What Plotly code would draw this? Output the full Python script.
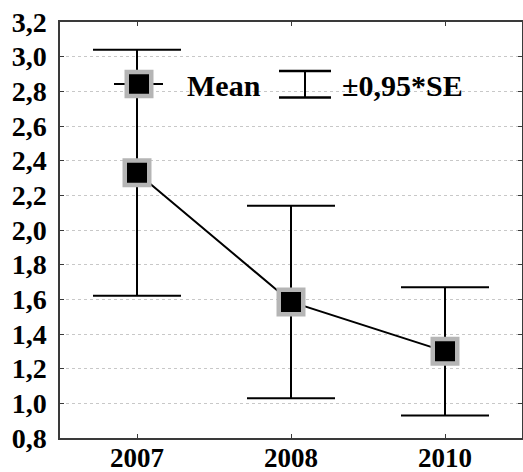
import plotly.graph_objects as go

years = ["2007", "2008", "2010"]
means = [2.33, 1.585, 1.30]
err = [0.71, 0.555, 0.37]
ytick_vals = [0.8, 1.0, 1.2, 1.4, 1.6, 1.8, 2.0, 2.2, 2.4, 2.6, 2.8, 3.0, 3.2]
ytick_text = ["0,8", "1,0", "1,2", "1,4", "1,6", "1,8", "2,0", "2,2", "2,4", "2,6", "2,8", "3,0", "3,2"]
legend_mean = "Mean"
legend_err = "±0,95*SE"

FONT = "Liberation Serif"
GRAY = "#b5b5b5"

fig = go.Figure()
fig.add_trace(go.Scatter(
    x=years, y=means, mode="lines+markers",
    line=dict(color="black", width=2),
    marker=dict(symbol="square", size=24.5, color="black",
                line=dict(color=GRAY, width=4.5)),
    error_y=dict(type="data", array=err, visible=True, color="black",
                 thickness=2, width=44),
    showlegend=False,
))

W, H = 462, 416
def px(x):
    return (x - 60) / W
def py(y):
    return (438 - y) / H

shapes = []
# legend: line segment + marker
shapes.append(dict(type="line", xref="paper", yref="paper",
                   x0=px(114), x1=px(163), y0=py(84), y1=py(84),
                   line=dict(color="black", width=2)))
shapes.append(dict(type="rect", xref="paper", yref="paper",
                   x0=px(139 - 12.25), x1=px(139 + 12.25),
                   y0=py(84 + 12), y1=py(84 - 12),
                   fillcolor="black", line=dict(color=GRAY, width=4.5)))
# legend: error bar symbol
shapes.append(dict(type="line", xref="paper", yref="paper",
                   x0=px(279), x1=px(331), y0=py(71), y1=py(71),
                   line=dict(color="black", width=2.5)))
shapes.append(dict(type="line", xref="paper", yref="paper",
                   x0=px(279), x1=px(331), y0=py(97.5), y1=py(97.5),
                   line=dict(color="black", width=2.5)))
shapes.append(dict(type="line", xref="paper", yref="paper",
                   x0=px(305), x1=px(305), y0=py(71), y1=py(97.5),
                   line=dict(color="black", width=2)))

annotations = [
    dict(text=legend_mean, xref="paper", yref="paper", x=px(185), y=py(85),
         xanchor="left", yanchor="middle", showarrow=False,
         font=dict(family=FONT, size=30, color="black", weight="bold")),
    dict(text=legend_err, xref="paper", yref="paper", x=px(340), y=py(85),
         xanchor="left", yanchor="middle", showarrow=False,
         font=dict(family=FONT, size=30, color="black", weight="bold")),
]

fig.update_layout(
    width=523, height=472,
    margin=dict(l=60, r=1, t=22, b=34),
    paper_bgcolor="white", plot_bgcolor="white",
    shapes=shapes, annotations=annotations,
    font=dict(family=FONT, color="black"),
)
fig.update_xaxes(
    type="category", categoryorder="array", categoryarray=years,
    range=[-0.5, 2.5], automargin=False,
    showline=True, linecolor="#3a3a3a", linewidth=1.5, mirror="ticks",
    ticks="inside", ticklen=4, tickcolor="#3a3a3a", tickwidth=1,
    showgrid=False, zeroline=False, ticklabelstandoff=-5,
    tickfont=dict(family=FONT, size=27, color="black", weight="bold"),
)
fig.update_yaxes(
    range=[0.8, 3.2], tickvals=ytick_vals, ticktext=ytick_text,
    automargin=False,
    showline=True, linecolor="#3a3a3a", linewidth=1.5, mirror="ticks",
    ticks="inside", ticklen=4, tickcolor="#3a3a3a", tickwidth=1,
    showgrid=True, gridcolor="#c8c8c8", griddash="dot", gridwidth=1,
    zeroline=False, ticklabelstandoff=6,
    tickfont=dict(family=FONT, size=28, color="black", weight="bold"),
)

fig.write_html("out.html", config={"displayModeBar": False},
               post_script="document.body.style.margin='0';document.body.style.padding='0';")
